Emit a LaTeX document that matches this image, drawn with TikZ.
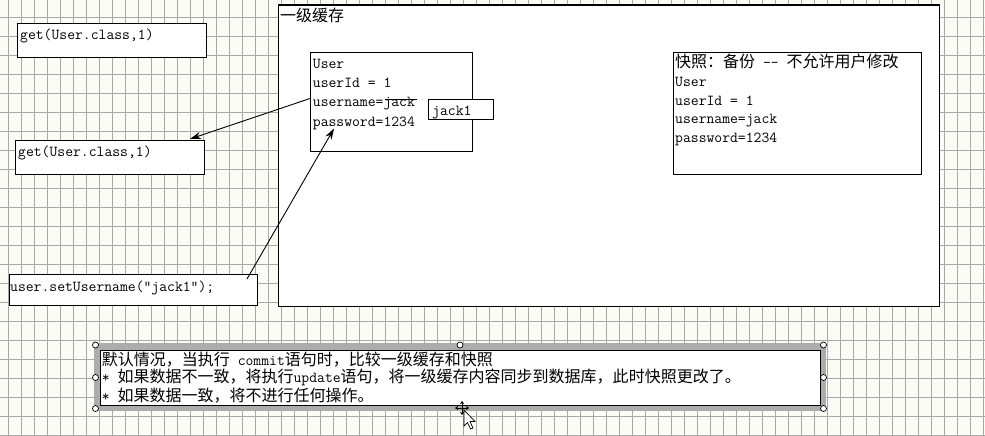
\documentclass[tikz,border=0pt]{standalone}
\usepackage{fontspec}
\newfontfamily\cjkf[Scale=1.05]{Noto Sans CJK SC}
\newcommand\CJ[1]{{\cjkf #1}}
\usetikzlibrary{arrows.meta}
\definecolor{bgc}{RGB}{252,252,246}
\definecolor{gridc}{RGB}{168,168,168}
\definecolor{bandc}{RGB}{172,172,172}
\begin{document}
\begin{tikzpicture}[x=1pt,y=-1pt,
  box/.style={draw=black, line width=1pt, fill=white, anchor=north west, inner sep=0pt},
  txt/.style={anchor=base west, inner sep=0pt, font=\fontsize{15.24}{19}\selectfont\ttfamily},
  arr/.style={-{Stealth[length=11pt,width=7pt]}, line width=0.9pt},
  handle/.style={circle, draw=black, fill=white, line width=0.7pt, inner sep=0pt, minimum size=6pt}]
\fill[bgc] (0,0) rectangle (985,436);
\useasboundingbox (0,0) rectangle (985,436);
\foreach \i in {0,...,75} \draw[gridc, line width=0.9pt] ({8.3+13*\i},0) -- ({8.3+13*\i},436);
\foreach \j in {0,...,22} \draw[gridc, line width=0.9pt] (0,{17.3+19*\j}) -- (985,{17.3+19*\j});

% left boxes
\node[box, minimum width=189pt, minimum height=34pt] (get1) at (17,23.5) {};
\node[txt] (get1t) at (20,40) {get(User.class,1)};
\node[box, minimum width=189pt, minimum height=34pt] (get2) at (15,139.5) {};
\node[txt] (get2t) at (18,156) {get(User.class,1)};
\node[box, minimum width=248pt, minimum height=31pt] (setu) at (8.5,274) {};
\node[txt] (setut) at (10,291) {user.setUsername(\char"201Djack1\char"201D);};

% container
\node[box, line width=1.6pt, minimum width=661pt, minimum height=301pt] (cache) at (277.5,4.5) {};
\node[txt] (cachet) at (280,22) {\CJ{一级缓存}};

% user object
\node[box, minimum width=162pt, minimum height=98.5pt] (userbox) at (310,52.5) {};
\node[txt] (uuser) at (312.7,69) {User};
\node[txt] (uid) at (312.7,88) {userId = 1};
\node[txt] (uname) at (312.7,106.7) {username=jack};
\node[txt] (upw) at (312.7,126) {password=1234};
\draw[line width=0.8pt] (384.7,99.5) -- (417,99.5);

\node[box, minimum width=65pt, minimum height=20pt] (jack) at (428,98.5) {};
\node[txt] (jackt) at (432,115) {jack1};

% snapshot
\node[box, minimum width=248pt, minimum height=121.5pt] (snap) at (673,52) {};
\node[txt] (s1) at (675,67) {\CJ{快照：备份} -- \CJ{不允许用户修改}};
\node[txt] (s2) at (675,86.5) {User};
\node[txt] (s3) at (675,105) {userId = 1};
\node[txt] (s4) at (675,123.5) {username=jack};
\node[txt] (s5) at (675,142) {password=1234};

% arrows
\coordinate (a1s) at (310,98.5);
\coordinate (a1e) at (190,139);
\draw[arr] (a1s) -- (a1e);
\coordinate (a2s) at (247,279);
\coordinate (a2e) at (334,128.5);
\draw[arr] (a2s) -- (a2e);

% note (selected)
\fill[bandc] (94,343) rectangle (826,411);
\node[box, minimum width=720pt, minimum height=55pt] (note) at (99.5,349.5) {};
\node[txt] (n1) at (101.7,365) {\CJ{默认情况，当执行} commit\CJ{语句时，比较一级缓存和快照}};
\node[txt] (n2) at (101.7,382.5) {* \CJ{如果数据不一致，将执行}update\CJ{语句，将一级缓存内容同步到数据库，此时快照更改了。}};
\node[txt] (n3) at (101.7,401) {* \CJ{如果数据一致，将不进行任何操作。}};

\foreach \p [count=\k] in {(95.5,345),(460,345),(823.5,345),(95.5,377.5),(823.5,377.5),(95.5,408.5),(823.5,408.5)}
  \node[handle] (h\k) at \p {};

% cursor
\draw[line width=0.8pt, -{Stealth[length=3pt,width=4pt]}] (462,408) -- (462,401);
\draw[line width=0.8pt, -{Stealth[length=3pt,width=4pt]}] (462,408) -- (462,415);
\draw[line width=0.8pt, -{Stealth[length=3pt,width=4pt]}] (462,408) -- (455,408);
\draw[line width=0.8pt, -{Stealth[length=3pt,width=4pt]}] (462,408) -- (469,408);
\draw[fill=white, line width=0.7pt, line join=miter] (464,410) -- (464,426) -- (467.5,422.5) -- (470.5,429) -- (473,428) -- (470,421.5) -- (475,421.5) -- cycle;
\end{tikzpicture}
\end{document}
